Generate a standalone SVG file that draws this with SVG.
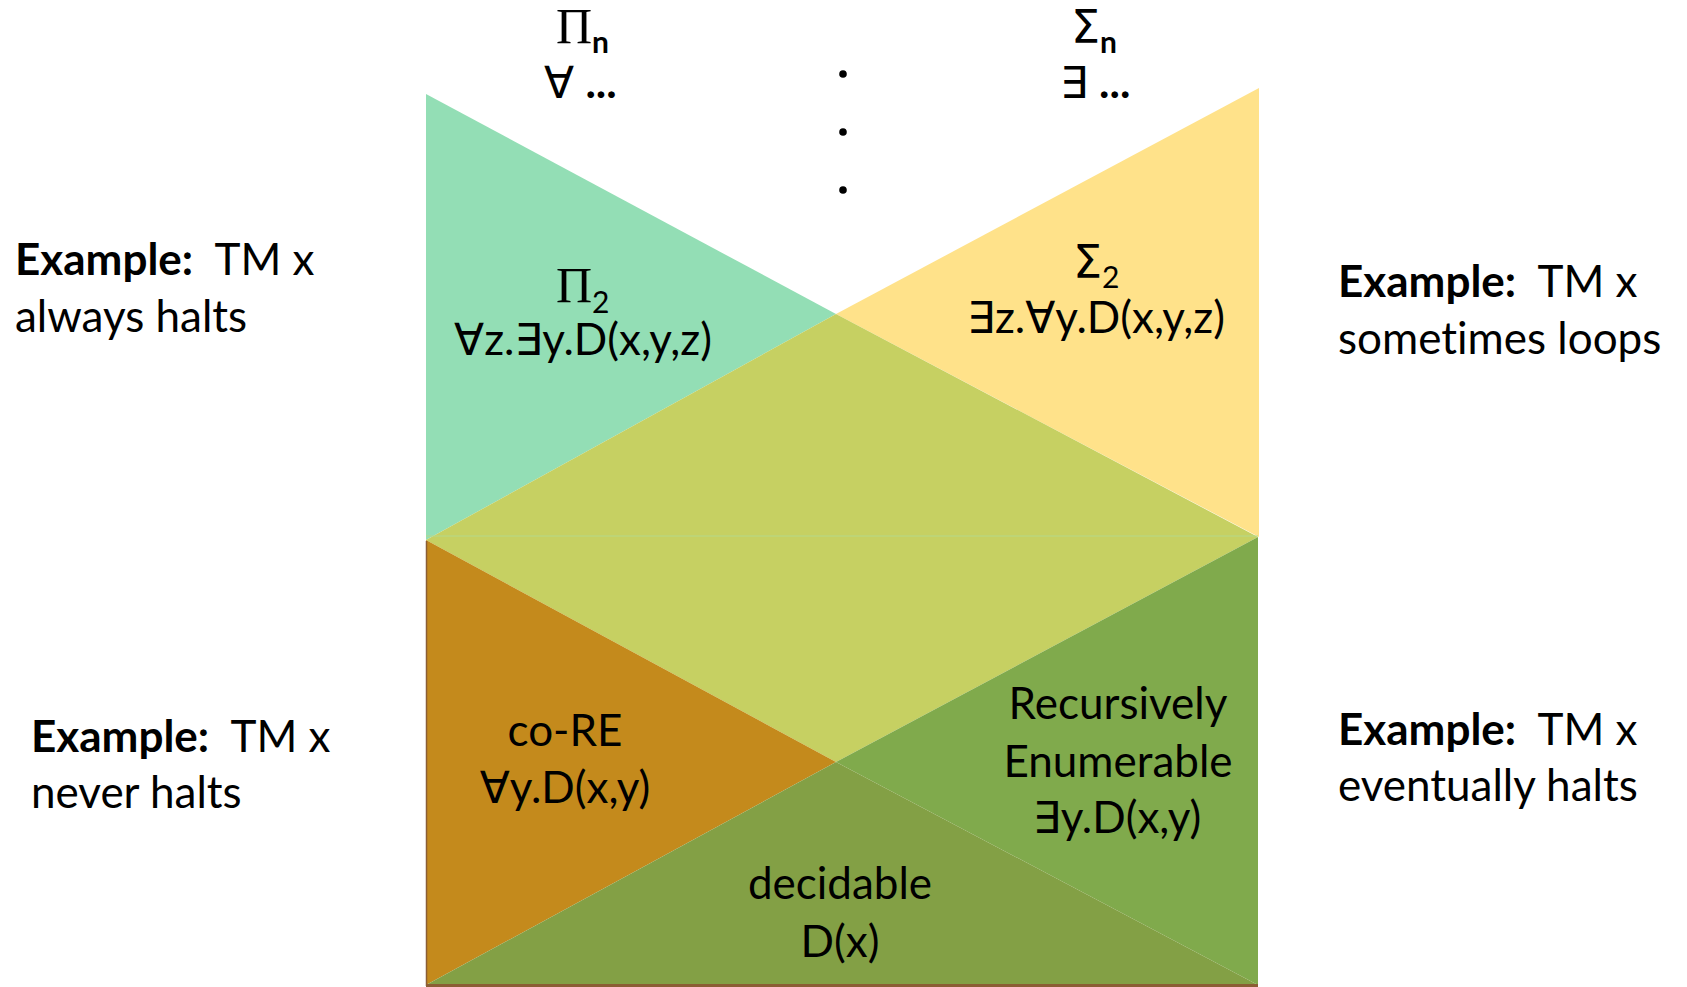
<svg xmlns="http://www.w3.org/2000/svg" width="1687" height="987" viewBox="0 0 1687 987">
<style>
.t{font-family:Lato,"DejaVu Sans",sans-serif;font-size:44px;fill:#000;white-space:pre;font-variant-ligatures:none}
.b{font-weight:bold}
.c{text-anchor:middle}
.q{font-family:"DejaVu Sans",sans-serif}
.g{font-family:"Liberation Serif",serif;font-size:50px;fill:#000}
.s{font-family:Lato,"DejaVu Sans",sans-serif;font-size:30px}
</style>
<rect width="1687" height="987" fill="#fff"/>
<g id="regions">
<polygon id="pi2" points="426,94 836,314 426,540" fill="#93DEB5"/>
<polygon id="sigma2" points="1259,88 1259,537 836,314" fill="#FFE28A"/>
<polygon id="delta2" points="836,314 1258,537 836,762 426,540" fill="#C6D062"/>
<line x1="426" y1="536" x2="1258" y2="536" stroke="#B4D98A" stroke-width="1"/>
<polygon id="core" points="426,540 836,762 426,985" fill="#C48A1C"/>
<polygon id="re" points="1258,537 1258,985 836,762" fill="#80AA4C"/>
<polygon id="dec" points="836,762 1258,985 426,985" fill="#83A045"/>
<line x1="426.5" y1="541" x2="426.5" y2="986" stroke="#8B5E34" stroke-width="1.5"/>
<line x1="426" y1="985.5" x2="1258" y2="985.5" stroke="#8B5E34" stroke-width="3"/>
</g>
<g id="dots">
<circle cx="843" cy="74" r="3.8"/>
<circle cx="843" cy="132" r="3.8"/>
<circle cx="843" cy="190" r="3.8"/>
</g>
<g id="pin">
<text class="g" x="556" y="43">Π<tspan class="s b" dy="10">n</tspan></text>
<text class="t" x="544" y="98"><tspan class="q">∀</tspan> <tspan class="b">...</tspan></text>
</g>
<g id="sigman">
<text class="t" x="1071" y="43"><tspan class="q" style="font-size:46px">Σ</tspan><tspan class="s b" dy="10">n</tspan></text>
<text class="t" x="1060" y="98"><tspan class="q">∃</tspan> <tspan class="b">...</tspan></text>
</g>
<g id="pi2-label">
<text class="g" x="556" y="302">Π<tspan class="s" dy="11">2</tspan></text>
<text class="t c" x="583" y="355">∀z.∃y.D(x,y,z)</text>
</g>
<g id="sigma2-label">
<text class="t" x="1073" y="278"><tspan class="q" style="font-size:46px">Σ</tspan><tspan class="s" dy="10">2</tspan></text>
<text class="t c" x="1096" y="333">∃z.∀y.D(x,y,z)</text>
</g>
<g id="core-label">
<text class="t c" x="565" y="746">co-RE</text>
<text class="t c" x="565" y="803">∀y.D(x,y)</text>
</g>
<g id="re-label">
<text class="t c" x="1118" y="719">Recursively</text>
<text class="t c" x="1118" y="777">Enumerable</text>
<text class="t c" x="1117" y="833">∃y.D(x,y)</text>
</g>
<g id="dec-label">
<text class="t c" x="840" y="899">decidable</text>
<text class="t c" x="840" y="957">D(x)</text>
</g>
<g id="ex-pi2">
<text class="t" x="15" y="275"><tspan class="b">Example:</tspan>  TM x</text>
<text class="t" x="15" y="332">always halts</text>
</g>
<g id="ex-sigma2">
<text class="t" x="1338" y="297"><tspan class="b">Example:</tspan>  TM x</text>
<text class="t" x="1338" y="354">sometimes loops</text>
</g>
<g id="ex-core">
<text class="t" x="31" y="752"><tspan class="b">Example:</tspan>  TM x</text>
<text class="t" x="31" y="808">never halts</text>
</g>
<g id="ex-re">
<text class="t" x="1338" y="745"><tspan class="b">Example:</tspan>  TM x</text>
<text class="t" x="1338" y="801">eventually halts</text>
</g>
</svg>
